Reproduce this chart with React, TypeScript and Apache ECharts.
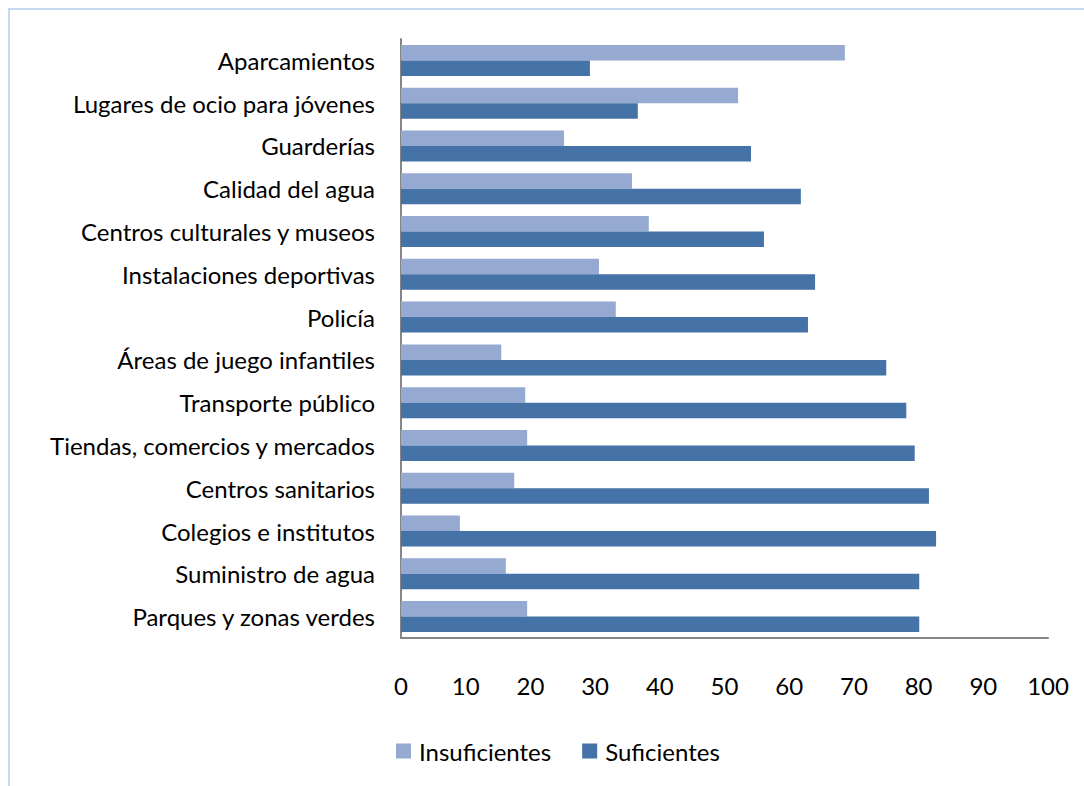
import React, { useEffect, useRef } from "react";
import * as echarts from "echarts";

const categories = [
  "Aparcamientos",
  "Lugares de ocio para jóvenes",
  "Guarderías",
  "Calidad del agua",
  "Centros culturales y museos",
  "Instalaciones deportivas",
  "Policía",
  "Áreas de juego infantiles",
  "Transporte público",
  "Tiendas, comercios y mercados",
  "Centros sanitarios",
  "Colegios e institutos",
  "Suministro de agua",
  "Parques y zonas verdes",
];

const insuficientes = [68.6, 52.1, 25.2, 35.7, 38.3, 30.6, 33.2, 15.5, 19.2, 19.5, 17.5, 9.1, 16.2, 19.5];
const suficientes = [29.2, 36.6, 54.1, 61.8, 56.1, 64.0, 62.9, 75.0, 78.1, 79.4, 81.6, 82.7, 80.1, 80.1];

const xTicks = { min: 0, max: 100, interval: 10 };

const FONT = "Lato";
const FS = 24;

export default function App() {
  const ref = useRef<HTMLDivElement>(null);
  useEffect(() => {
    if (!ref.current) return;
    const chart = echarts.init(ref.current, undefined, { renderer: "svg" });
    chart.setOption({
      animation: false,
      backgroundColor: "#ffffff",
      textStyle: { fontFamily: FONT },
      graphic: [
        {
          type: "rect",
          shape: { x: 9, y: 9, width: 1200, height: 900 },
          style: { fill: "none", stroke: "#C6D9F1", lineWidth: 2 },
          silent: true,
        },
      ],
      grid: { left: 401, right: 36, top: 39, bottom: 148, containLabel: false },
      legend: {
        left: 396,
        top: 739,
        padding: 0,
        itemWidth: 15,
        itemHeight: 15,
        itemGap: 31,
        icon: "rect",
        textStyle: { fontFamily: FONT, fontSize: FS, lineHeight: 24, color: "#000", padding: [0, 0, 0, 3] },
        data: ["Insuficientes", "Suficientes"],
      },
      xAxis: {
        type: "value",
        min: xTicks.min,
        max: xTicks.max,
        interval: xTicks.interval,
        splitLine: { show: false },
        axisLine: { show: true, lineStyle: { color: "#868686", width: 2 } },
        axisTick: { show: false },
        axisLabel: { fontFamily: FONT, fontSize: FS, color: "#000", margin: 35 },
      },
      yAxis: {
        type: "category",
        inverse: true,
        data: categories,
        axisLine: { show: true, lineStyle: { color: "#868686", width: 2 } },
        axisTick: { show: false },
        axisLabel: { fontFamily: FONT, fontSize: FS, color: "#000", margin: 26 },
      },
      series: [
        {
          name: "Insuficientes",
          type: "bar",
          data: insuficientes,
          itemStyle: { color: "#95A9D1" },
          barGap: "0%",
          barCategoryGap: "27.6%",
        },
        {
          name: "Suficientes",
          type: "bar",
          data: suficientes,
          itemStyle: { color: "#4572A7" },
          barGap: "0%",
          barCategoryGap: "27.6%",
        },
      ],
    });
    return () => chart.dispose();
  }, []);
  return (
    <div
      ref={ref}
      style={{ position: "fixed", left: 0, top: 0, width: 1084, height: 786 }}
    />
  );
}
